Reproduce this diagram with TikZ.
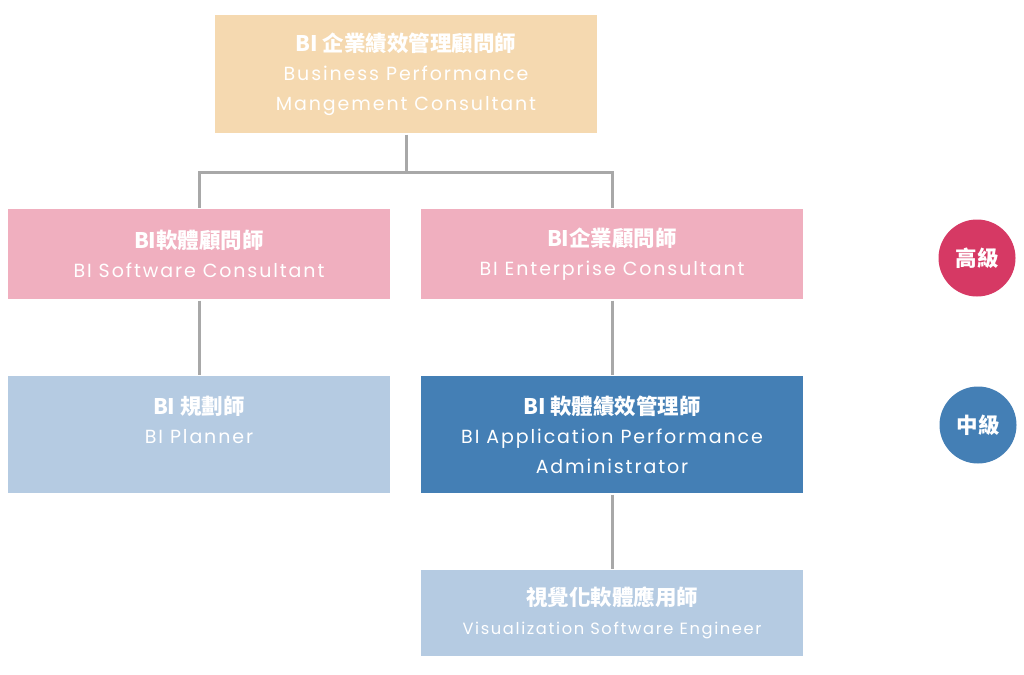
\documentclass[tikz,border=0pt]{standalone}
\usepackage{fontspec}
\setmainfont{Poppins}[LetterSpace=10]
\newfontfamily\cjk{Noto Sans CJK TC}
\definecolor{topc}{HTML}{F5D9B0}
\definecolor{pinkc}{HTML}{F0AFBF}
\definecolor{lightc}{HTML}{B5CBE2}
\definecolor{darkc}{HTML}{447FB5}
\definecolor{redc}{HTML}{D63964}
\definecolor{linec}{HTML}{A8A8A8}
\newcommand{\zh}[1]{{\cjk\bfseries\fontsize{21.5}{29.5}\selectfont #1}}
\begin{document}
\begin{tikzpicture}
[x=1pt, y=-1pt,
 nodes={text=white, align=center, inner sep=0pt, minimum width=382pt,
        font=\fontsize{19}{29.5}\selectfont},
 level/.style={circle, minimum width=77pt, fill=#1, font=\fontsize{20}{24}\selectfont},
 line width=3pt, draw=linec]
\useasboundingbox (0,0) rectangle (1024,674);
\node[fill=topc, minimum height=118pt] (Business) at (406,74)
  {\zh{BI 企業績效管理顧問師}\\Business Performance\\Mangement Consultant};
\node[fill=pinkc, minimum height=90pt] (Software) at (199,254)
  {\zh{BI軟體顧問師}\\BI Software Consultant};
\node[fill=pinkc, minimum height=90pt] (Enterprise) at (612,254)
  {\zh{BI企業顧問師}\\BI Enterprise Consultant};
\node[fill=lightc, minimum height=117pt] (Planner) at (199,434.5)
  {\zh{BI 規劃師}\\BI Planner\\\phantom{Administrator}};
\node[fill=darkc, minimum height=117pt] (Application) at (612,434.5)
  {\zh{BI 軟體績效管理師}\\BI Application Performance\\Administrator};
\node[fill=lightc, minimum height=86pt] (Visualization) at (612,613)
  {\zh{視覺化軟體應用師}\\{\fontsize{16.3}{20}\selectfont Visualization Software Engineer}};
\node[level=redc] (Senior) at (977,258) {\zh{高級}};
\node[level=darkc] (Middle) at (978,425) {\zh{中級}};
\coordinate (Split) at (406,172);
\draw[linec] (Business) -- (Split);
\draw[linec] (Split) -| (Software);
\draw[linec] (Split) -| (Enterprise);
\draw[linec] (Software) -- (Planner);
\draw[linec] (Enterprise) -- (Application);
\draw[linec] (Application) -- (Visualization);
\end{tikzpicture}
\end{document}
